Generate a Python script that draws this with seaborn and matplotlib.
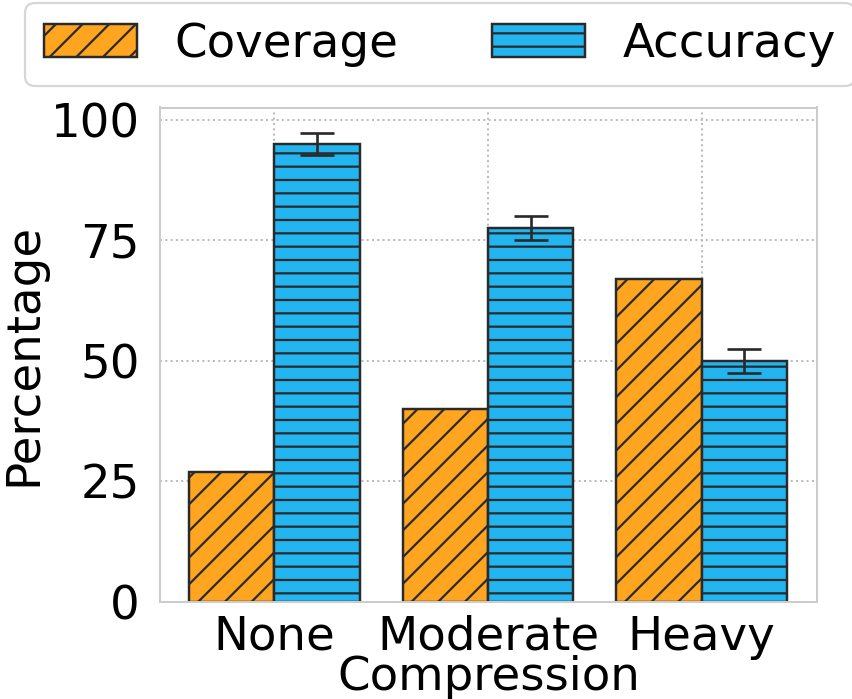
import matplotlib
matplotlib.use("Agg")
import matplotlib.pyplot as plt
import seaborn as sns
import pandas as pd

# ---- data ----
categories = ["None", "Moderate", "Heavy"]
series_names = ["Coverage", "Accuracy"]
coverage = [27, 40, 67]
accuracy = [95, 77.5, 50]
accuracy_err = [2.3, 2.5, 2.5]
y_ticks = [0, 25, 50, 75, 100]

sns.set_theme(style="whitegrid")
plt.rcParams['font.family'] = ['DejaVu Sans']
plt.rcParams['hatch.linewidth'] = 1.0
plt.rcParams['hatch.color'] = '#2a2a2a'
for k in ['text.color', 'axes.labelcolor', 'xtick.color', 'ytick.color']:
    plt.rcParams[k] = 'black'

df = pd.DataFrame({
    "Compression": categories * 2,
    "Percentage": coverage + accuracy,
    "Metric": [series_names[0]] * len(categories) + [series_names[1]] * len(categories),
})

DPI = 160
W, H = 852, 699
fig = plt.figure(figsize=(W / DPI, H / DPI), dpi=DPI)
ax = fig.add_axes([160 / W, 1 - 601.5 / H, 657 / W, 494 / H])

palette = {series_names[0]: "#FFA520", series_names[1]: "#22B5F0"}
sns.barplot(data=df, x="Compression", y="Percentage", hue="Metric",
            palette=palette, ax=ax, edgecolor="#2a2a2a", linewidth=1.1,
            errorbar=None, saturation=1, width=0.8, legend=False)

hatches = ['//', '--']
for cont, h in zip(ax.containers, hatches):
    for bar in cont:
        bar.set_hatch(h)

acc_bars = ax.containers[1]
xs = [b.get_x() + b.get_width() / 2 for b in acc_bars]
ax.errorbar(xs, accuracy, yerr=accuracy_err, fmt='none', ecolor='#2a2a2a',
            elinewidth=1.2, capsize=7.6, capthick=1.2, zorder=5)

ax.set_xlim(-0.535, 2.54)
ax.set_ylim(0, 102.6)
ax.set_yticks(y_ticks)
ax.grid(True, linestyle=':', color='#bbbbbb', linewidth=0.9)
ax.set_axisbelow(True)
for s in ax.spines.values():
    s.set_color('#cccccc')
    s.set_linewidth(0.9)

fs = 21
ax.tick_params(axis='y', labelsize=fs, pad=3)
ax.tick_params(axis='x', labelsize=fs, pad=0)
ax.set_xlabel("Compression", fontsize=fs, labelpad=-2)
ax.set_ylabel("Percentage", fontsize=fs, labelpad=2)

leg = ax.legend(list(ax.containers), series_names, loc='lower left',
                bbox_to_anchor=(-0.205, 1.0445), ncol=2, fontsize=fs,
                frameon=True, borderaxespad=0)
leg.get_frame().set_edgecolor('#cccccc')

fig.savefig("out.png", dpi=DPI)
